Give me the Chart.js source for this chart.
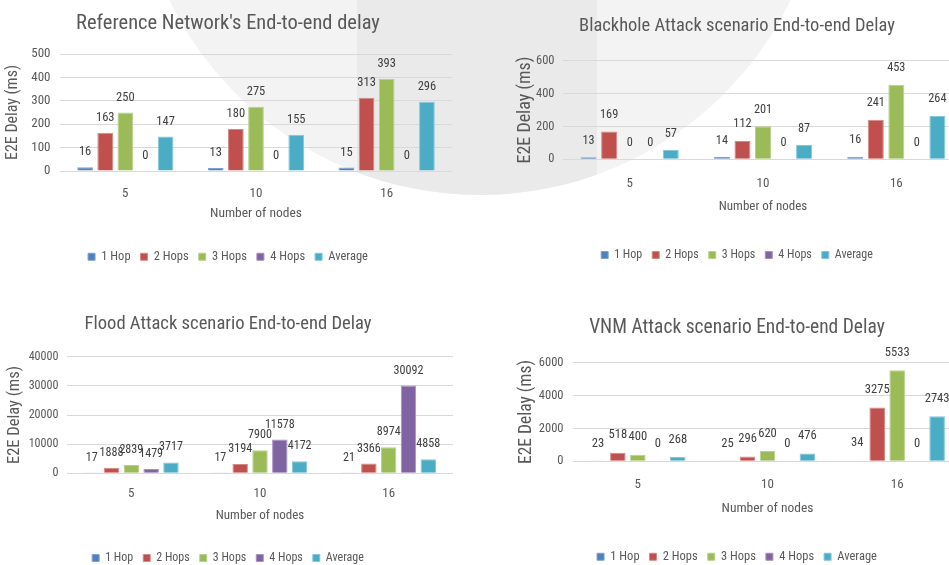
<!DOCTYPE html>
<html>
<head>
<meta charset="utf-8">
<title>End-to-end delay by scenario</title>
<script src="https://cdn.jsdelivr.net/npm/chart.js@4.4.1/dist/chart.umd.min.js"></script>
<style>
  html, body { margin: 0; padding: 0; width: 949px; height: 565px; overflow: hidden; background: #ffffff; position: relative; }
  #mark { position: absolute; left: 135px; top: -495px; width: 690px; height: 690px; border-radius: 50%; background: #f3f3f3; overflow: hidden; }
  #mark div { position: absolute; left: 222px; top: 0; width: 240px; height: 100%; background: #eaeaea; }
  canvas { position: absolute; }
</style>
</head>
<body>
<div id="mark"><div></div></div>
<canvas id="refChart"></canvas>
<canvas id="blackholeChart"></canvas>
<canvas id="floodChart"></canvas>
<canvas id="vnmChart"></canvas>
<script>
// ---- data -------------------------------------------------------------
const nodeCounts = ['5', '10', '16'];
const seriesNames = ['1 Hop', '2 Hops', '3 Hops', '4 Hops', 'Average'];

// Reference network (ms)
const ref1Hop = [16, 13, 15];
const ref2Hops = [163, 180, 313];
const ref3Hops = [250, 275, 393];
const ref4Hops = [0, 0, 0];
const refAverage = [147, 155, 296];
const refTicks = [0, 100, 200, 300, 400, 500];

// Blackhole attack (ms)
const bh1Hop = [13, 14, 16];
const bh2Hops = [169, 112, 241];
const bh3Hops = [0, 201, 453];
const bh4Hops = [0, 0, 0];
const bhAverage = [57, 87, 264];
const bhTicks = [0, 200, 400, 600];

// Flood attack (ms)
const fl1Hop = [17, 17, 21];
const fl2Hops = [1888, 3194, 3366];
const fl3Hops = [2839, 7900, 8974];
const fl4Hops = [1479, 11578, 30092];
const flAverage = [3717, 4172, 4858];
const flTicks = [0, 10000, 20000, 30000, 40000];

// VNM attack (ms)
const vnm1Hop = [23, 25, 34];
const vnm2Hops = [518, 296, 3275];
const vnm3Hops = [400, 620, 5533];
const vnm4Hops = [0, 0, 0];
const vnmAverage = [268, 476, 2743];
const vnmTicks = [0, 2000, 4000, 6000];

// ---- styling ----------------------------------------------------------
const FAMILY = "'Roboto Condensed', 'Liberation Sans', sans-serif";
const TEXT = '#595959';
const fills = ['#4F81BD', '#C0504D', '#9BBB59', '#8064A2', '#4BACC6'];
const edges = ['#7fa1cf', '#d48886', '#b9d08b', '#a590c0', '#82c6d9'];

Chart.defaults.font.family = FAMILY;
Chart.defaults.color = TEXT;
Chart.defaults.animation = false;

// Value captions above each bar
const barValueLabels = {
  id: 'barValueLabels',
  afterDatasetsDraw(chart, args, opts) {
    const ctx = chart.ctx;
    ctx.save();
    ctx.font = opts.size + 'px ' + FAMILY;
    ctx.fillStyle = opts.color;
    ctx.textAlign = 'center';
    ctx.textBaseline = 'middle';
    chart.data.datasets.forEach((ds, i) => {
      chart.getDatasetMeta(i).data.forEach((bar, j) => {
        ctx.fillText(String(ds.data[j]), bar.x, bar.y - opts.offset);
      });
    });
    ctx.restore();
  }
};

function makeChart(id, title, series, ticks, spec) {
  // canvas spans so that its centre line is the title centre
  const cl = 2 * spec.titleCx - spec.plotR;
  const cw = spec.plotR - cl;
  const ct = spec.top;
  const ch = Math.round(spec.legendCy + spec.legendSize / 2 + 10 - ct);
  const canvas = document.getElementById(id);
  canvas.width = cw;
  canvas.height = ch;
  canvas.style.left = cl + 'px';
  canvas.style.top = ct + 'px';

  const lhT = 1.2 * spec.titleSize;
  const tPadTop = spec.titleCy + 1.5 - ct - lhT / 2;
  const tPadBottom = (spec.plotT - ct) - tPadTop - lhT;
  const legendPad = 10;
  const legendTop = ch - (spec.legendSize + legendPad + 10);
  const plotB = spec.plotB - ct;
  const xHeight = legendTop - plotB;
  const xTickPad = (spec.xLabelCy - ct) - plotB - 1.2 * spec.xTickSize / 2 - 6;
  const xTitlePad = legendTop - (spec.xTitleCy - ct) - 1.2 * spec.xTitleSize / 2;
  const yWidth = spec.plotL - cl;
  const yTitlePad = spec.yTitleCx - cl - spec.yTitleSize / 2;

  return new Chart(canvas, {
    type: 'bar',
    data: {
      labels: nodeCounts,
      datasets: series.map((values, i) => ({
        label: seriesNames[i],
        data: values,
        backgroundColor: fills[i],
        borderColor: edges[i],
        borderWidth: 1,
        categoryPercentage: 0.77,
        barPercentage: 0.78
      }))
    },
    options: {
      responsive: false,
      layout: { padding: 0 },
      plugins: {
        title: {
          display: true,
          text: title,
          color: TEXT,
          font: { size: spec.titleSize, weight: 'normal' },
          padding: { top: tPadTop, bottom: tPadBottom }
        },
        legend: {
          position: 'bottom',
          labels: {
            boxWidth: 7,
            boxHeight: 7,
            padding: legendPad,
            color: TEXT,
            font: { size: spec.legendSize }
          }
        },
        tooltip: { enabled: false },
        barValueLabels: { size: spec.labelSize, offset: spec.labelOffset, color: '#404040' }
      },
      scales: {
        x: {
          grid: { display: false },
          border: { display: false },
          ticks: { color: TEXT, padding: xTickPad, font: { size: spec.xTickSize } },
          title: {
            display: true,
            text: 'Number of nodes',
            color: TEXT,
            font: { size: spec.xTitleSize },
            padding: { top: 0, bottom: xTitlePad }
          },
          afterFit: s => { s.height = xHeight; }
        },
        y: {
          min: ticks[0],
          max: ticks[ticks.length - 1],
          grid: { color: '#d9d9d9', drawTicks: false, lineWidth: 1 },
          border: { display: false },
          ticks: {
            stepSize: ticks[1] - ticks[0],
            color: TEXT,
            padding: spec.plotL - spec.tickR - 1.5,
            font: { size: spec.tickSize },
            callback: v => String(v)
          },
          title: {
            display: true,
            text: 'E2E Delay (ms)',
            color: TEXT,
            font: { size: spec.yTitleSize, lineHeight: 1 },
            padding: { top: yTitlePad, bottom: 0 }
          },
          afterFit: s => { s.width = yWidth; }
        }
      }
    },
    plugins: [barValueLabels]
  });
}

makeChart('refChart', "Reference Network's End-to-end delay",
  [ref1Hop, ref2Hops, ref3Hops, ref4Hops, refAverage], refTicks, {
    top: 0, titleCx: 228, titleCy: 22, titleSize: 20.5,
    plotL: 60, plotR: 452, plotT: 54, plotB: 171,
    tickR: 49, tickSize: 13, yTitleCx: 13, yTitleSize: 16,
    xLabelCy: 192, xTickSize: 13, xTitleCy: 214, xTitleSize: 13.5,
    legendCy: 257, legendSize: 12.5, labelSize: 12.5, labelOffset: 15
  });

makeChart('blackholeChart', 'Blackhole Attack scenario End-to-end Delay',
  [bh1Hop, bh2Hops, bh3Hops, bh4Hops, bhAverage], bhTicks, {
    top: 0, titleCx: 737, titleCy: 25, titleSize: 18.5,
    plotL: 563, plotR: 963, plotT: 60.7, plotB: 159.3,
    tickR: 553, tickSize: 12.5, yTitleCx: 525, yTitleSize: 18,
    xLabelCy: 182, xTickSize: 13, xTitleCy: 207, xTitleSize: 13,
    legendCy: 255, legendSize: 12, labelSize: 12.3, labelOffset: 16.5
  });

makeChart('floodChart', 'Flood Attack scenario End-to-end Delay',
  [fl1Hop, fl2Hops, fl3Hops, fl4Hops, flAverage], flTicks, {
    top: 290, titleCx: 228, titleCy: 323, titleSize: 18.6,
    plotL: 67, plotR: 453, plotT: 356.7, plotB: 473.3,
    tickR: 57, tickSize: 12.1, yTitleCx: 15, yTitleSize: 16.5,
    xLabelCy: 492, xTickSize: 13, xTitleCy: 516, xTitleSize: 13,
    legendCy: 558, legendSize: 12, labelSize: 12.1, labelOffset: 15
  });

makeChart('vnmChart', 'VNM Attack scenario End-to-end Delay',
  [vnm1Hop, vnm2Hops, vnm3Hops, vnm4Hops, vnmAverage], vnmTicks, {
    top: 290, titleCx: 737, titleCy: 327, titleSize: 19.5,
    plotL: 573, plotR: 962, plotT: 362.7, plotB: 461.3,
    tickR: 562, tickSize: 12.5, yTitleCx: 527, yTitleSize: 17.5,
    xLabelCy: 483, xTickSize: 13, xTitleCy: 509, xTitleSize: 13.5,
    legendCy: 557, legendSize: 12.5, labelSize: 12.6, labelOffset: 17.5
  });
</script>
</body>
</html>
